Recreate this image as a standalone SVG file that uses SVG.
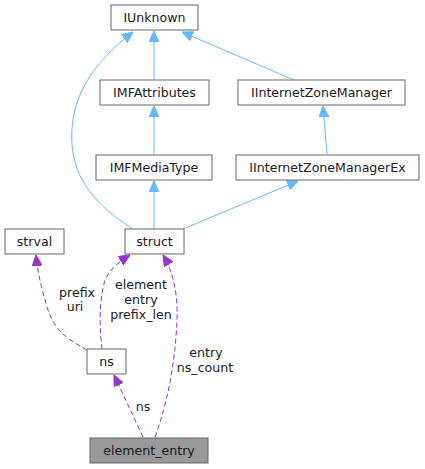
<svg xmlns="http://www.w3.org/2000/svg" width="425" height="469" viewBox="0 0 425 469">
<style>
.n rect{fill:#fff;stroke:#666;stroke-width:1}
.n.h rect{fill:#999}
text{font-family:"DejaVu Sans","Liberation Sans",sans-serif;font-size:12.6px;fill:#1a1a1a}
.n text{text-anchor:middle}
.b{fill:none;stroke:#63b8ff;stroke-width:1}
.p{fill:none;stroke:#9a32cd;stroke-width:1;stroke-dasharray:5,3}
.l{text-anchor:middle}
</style>
<defs>
<marker id="ab" viewBox="0 0 11 10" refX="11" refY="5" markerWidth="11" markerHeight="10" markerUnits="userSpaceOnUse" orient="auto"><path d="M0,0 L11,5 L0,10 z" fill="#63b8ff" stroke="#63b8ff"/></marker>
<marker id="ap" viewBox="0 0 11 10" refX="11" refY="5" markerWidth="11" markerHeight="10" markerUnits="userSpaceOnUse" orient="auto"><path d="M0,0 L11,5 L0,10 z" fill="#9a32cd" stroke="#9a32cd"/></marker>
</defs>
<g id="edges">
<path class="b" d="M154,80 L154,31" marker-end="url(#ab)"/>
<path class="b" d="M294,80 L182,32" marker-end="url(#ab)"/>
<path class="b" d="M133,229 C95,205 75,180 72,145 C69,100 90,65 133,32" marker-end="url(#ab)"/>
<path class="b" d="M154,155 L154,106" marker-end="url(#ab)"/>
<path class="b" d="M327,154 L323,106" marker-end="url(#ab)"/>
<path class="b" d="M154,229 L154,181" marker-end="url(#ab)"/>
<path class="b" d="M183,229 L298,181" marker-end="url(#ab)"/>
<path class="p" d="M87,350 C65,338 55,330 48,310 C42,290 38,275 36,255" marker-end="url(#ap)"/>
<path class="p" d="M102,349 C100,330 98,305 105,280 C110,268 122,260 130,255" marker-end="url(#ap)"/>
<path class="p" d="M155,437 C165,410 175,370 177,320 C178,290 172,270 163,255" marker-end="url(#ap)"/>
<path class="p" d="M143,437 L114,375" marker-end="url(#ap)"/>
<text class="l" x="77" y="297">prefix</text>
<text class="l" x="75" y="311">uri</text>
<text class="l" x="141" y="289">element</text>
<text class="l" x="141" y="304">entry</text>
<text class="l" x="141" y="319">prefix_len</text>
<text class="l" x="206" y="357">entry</text>
<text class="l" x="205" y="372">ns_count</text>
<text class="l" x="143" y="411">ns</text>
</g>
<g id="IUnknown" class="n"><rect x="111" y="5" width="87" height="25"/><text x="154.5" y="22">IUnknown</text></g>
<g id="IMFAttributes" class="n"><rect x="100" y="80" width="109" height="25"/><text x="154.5" y="97">IMFAttributes</text></g>
<g id="IInternetZoneManager" class="n"><rect x="238" y="80" width="167" height="25"/><text x="321.5" y="97">IInternetZoneManager</text></g>
<g id="IMFMediaType" class="n"><rect x="96" y="155" width="116" height="25"/><text x="154" y="172">IMFMediaType</text></g>
<g id="IInternetZoneManagerEx" class="n"><rect x="236" y="155" width="183" height="25"/><text x="327.5" y="172">IInternetZoneManagerEx</text></g>
<g id="struct" class="n"><rect x="125" y="229" width="59" height="25"/><text x="154.5" y="246">struct</text></g>
<g id="strval" class="n"><rect x="5" y="229" width="59" height="25"/><text x="34.5" y="246">strval</text></g>
<g id="ns" class="n"><rect x="87" y="349" width="39" height="25"/><text x="106.5" y="366">ns</text></g>
<g id="element_entry" class="n h"><rect x="90" y="438" width="118" height="25"/><text x="149" y="455">element_entry</text></g>
</svg>
